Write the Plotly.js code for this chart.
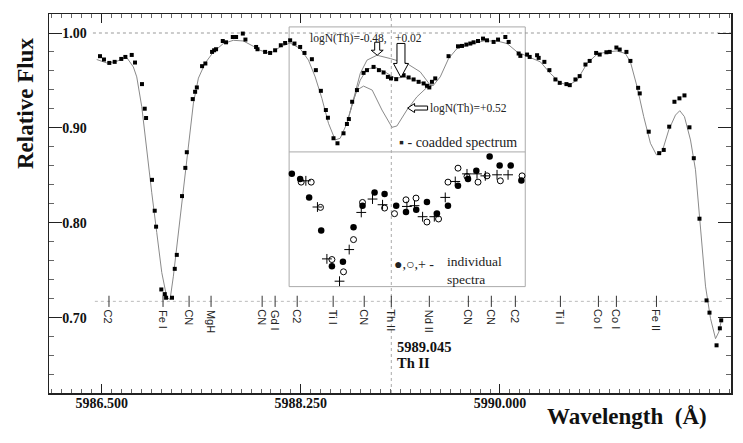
<!DOCTYPE html>
<html>
<head>
<meta charset="utf-8">
<script src="https://cdn.plot.ly/plotly-3.0.1.min.js"></script>
<style>html,body{margin:0;padding:0;background:#fff}#chart{width:743px;height:443px}</style>
</head>
<body>
<div id="chart"></div>
<script>
// Coadded spectrum (observed)
const waveCoadd = [5986.485,5986.520,5986.567,5986.614,5986.672,5986.708,5986.764,5986.793,5986.854,5986.878,5986.890,5986.942,5986.966,5986.978,5987.024,5987.054,5987.066,5987.118,5987.142,5987.160,5987.206,5987.235,5987.248,5987.300,5987.321,5987.336,5987.382,5987.411,5987.470,5987.488,5987.505,5987.564,5987.593,5987.652,5987.681,5987.740,5987.763,5987.857,5987.869,5987.936,5987.980,5988.024,5988.074,5988.112,5988.156,5988.194,5988.244,5988.282,5988.347,5988.382,5988.426,5988.470,5988.488,5988.537,5988.572,5988.625,5988.655,5988.672,5988.701,5988.743,5988.801,5988.831,5988.889,5988.936,5988.977,5989.015,5989.042,5989.088,5989.153,5989.197,5989.241,5989.285,5989.329,5989.358,5989.379,5989.402,5989.431,5989.548,5989.631,5989.666,5989.704,5989.739,5989.768,5989.807,5989.851,5989.886,5989.944,5989.983,5990.047,5990.076,5990.164,5990.179,5990.238,5990.261,5990.326,5990.340,5990.390,5990.434,5990.487,5990.525,5990.584,5990.613,5990.663,5990.700,5990.751,5990.788,5990.845,5990.876,5990.935,5990.964,5991.023,5991.052,5991.111,5991.146,5991.214,5991.228,5991.307,5991.399,5991.439,5991.487,5991.533,5991.577,5991.621,5991.665,5991.703,5991.753,5991.815,5991.841,5991.903,5991.932,5991.944];
const fluxCoadd = [0.9756,0.9721,0.9685,0.9696,0.9727,0.9748,0.9769,0.9689,0.9462,0.9203,0.9105,0.8454,0.8129,0.7961,0.7300,0.7251,0.7213,0.7213,0.7517,0.7664,0.8283,0.8580,0.8745,0.9304,0.9381,0.9427,0.9651,0.9679,0.9801,0.9818,0.9829,0.9916,0.9902,0.9958,0.9958,0.9994,0.9931,0.9853,0.9829,0.9801,0.9790,0.9818,0.9871,0.9895,0.9923,0.9889,0.9853,0.9790,0.9724,0.9609,0.9391,0.9189,0.9108,0.8892,0.8839,0.8944,0.9042,0.9094,0.9276,0.9399,0.9580,0.9609,0.9643,0.9609,0.9584,0.9538,0.9522,0.9514,0.9556,0.9532,0.9511,0.9486,0.9469,0.9444,0.9427,0.9486,0.9522,0.9756,0.9860,0.9864,0.9878,0.9889,0.9902,0.9916,0.9941,0.9923,0.9906,0.9931,0.9958,0.9906,0.9784,0.9759,0.9773,0.9748,0.9766,0.9738,0.9696,0.9609,0.9511,0.9475,0.9462,0.9451,0.9511,0.9546,0.9668,0.9706,0.9790,0.9773,0.9797,0.9801,0.9847,0.9826,0.9801,0.9706,0.9423,0.9364,0.8961,0.8735,0.8769,0.9014,0.9276,0.9312,0.9343,0.9007,0.8682,0.8045,0.7185,0.7056,0.6712,0.6891,0.6975];

// Synthetic spectrum, best fit logN(Th)=+0.02
const waveSynth = [5986.456,5986.544,5986.617,5986.720,5986.778,5986.808,5986.852,5986.896,5986.940,5986.984,5987.028,5987.072,5987.101,5987.130,5987.174,5987.218,5987.262,5987.306,5987.350,5987.409,5987.482,5987.569,5987.657,5987.745,5987.833,5987.892,5987.980,5988.068,5988.156,5988.244,5988.317,5988.376,5988.435,5988.493,5988.552,5988.596,5988.655,5988.713,5988.772,5988.831,5988.904,5988.992,5989.079,5989.167,5989.255,5989.343,5989.416,5989.475,5989.548,5989.622,5989.739,5989.856,5989.974,5990.062,5990.150,5990.267,5990.355,5990.443,5990.531,5990.604,5990.678,5990.765,5990.853,5990.941,5991.029,5991.102,5991.146,5991.205,5991.263,5991.322,5991.375,5991.425,5991.483,5991.542,5991.580,5991.621,5991.674,5991.718,5991.762,5991.806,5991.850,5991.894,5991.923,5991.944];
const fluxSynth = [0.9721,0.9685,0.9696,0.9742,0.9643,0.9538,0.9224,0.8738,0.8318,0.7898,0.7478,0.7216,0.7195,0.7440,0.7898,0.8384,0.8843,0.9262,0.9525,0.9682,0.9801,0.9889,0.9923,0.9916,0.9860,0.9818,0.9784,0.9853,0.9895,0.9836,0.9714,0.9538,0.9312,0.9049,0.8874,0.8892,0.9049,0.9294,0.9504,0.9619,0.9640,0.9588,0.9525,0.9535,0.9504,0.9462,0.9451,0.9538,0.9731,0.9836,0.9881,0.9916,0.9916,0.9889,0.9801,0.9745,0.9696,0.9574,0.9475,0.9451,0.9504,0.9679,0.9777,0.9801,0.9811,0.9784,0.9696,0.9433,0.9119,0.8839,0.8717,0.8751,0.8979,0.9136,0.9182,0.9119,0.8874,0.8560,0.7964,0.7335,0.6994,0.6782,0.6852,0.6967];

// Synthetic, logN(Th)=-0.48
const waveHigh = [5988.684,5988.743,5988.772,5988.831,5988.919,5989.036,5989.182,5989.299,5989.387,5989.416];
const fluxHigh = [0.9171,0.9441,0.9574,0.9714,0.9766,0.9731,0.9679,0.9591,0.9451,0.9451];

// Synthetic, logN(Th)=+0.52
const waveLow = [5988.655,5988.701,5988.743,5988.801,5988.877,5988.963,5989.051,5989.094,5989.182,5989.270,5989.358,5989.416];
const fluxLow = [0.9049,0.9252,0.9399,0.9441,0.9399,0.9189,0.9007,0.9021,0.9189,0.9328,0.9427,0.9451];

// Individual spectra (plotted with a vertical offset)
const waveIndA = [5988.171,5988.244,5988.323,5988.429,5988.523,5988.620,5988.713,5988.792,5988.898,5988.986,5989.088,5989.174,5989.264,5989.358,5989.446,5989.543,5989.631,5989.719,5989.792,5989.909,5989.997,5990.094,5990.188];
const fluxIndA = [0.8517,0.8462,0.8269,0.7922,0.7545,0.7591,0.7954,0.8182,0.8321,0.8304,0.8182,0.8115,0.8140,0.8220,0.8101,0.8182,0.8391,0.8462,0.8549,0.8699,0.8604,0.8604,0.8447];
const waveIndB = [5988.253,5988.341,5988.423,5988.523,5988.625,5988.713,5988.792,5988.986,5989.073,5989.174,5989.262,5989.358,5989.460,5989.543,5989.631,5989.710,5989.807,5989.886,5990.003,5990.194];
const fluxIndB = [0.8430,0.8430,0.8164,0.7615,0.7486,0.7825,0.8216,0.8157,0.8098,0.8244,0.8262,0.8010,0.8042,0.8430,0.8577,0.8489,0.8430,0.8496,0.8444,0.8496];
const waveIndC = [5988.294,5988.396,5988.479,5988.590,5988.675,5988.781,5988.880,5988.968,5989.182,5989.249,5989.320,5989.423,5989.519,5989.607,5989.710,5989.798,5989.871,5989.974,5990.071];
const fluxIndC = [0.8444,0.8168,0.7622,0.7387,0.7720,0.8111,0.8252,0.8192,0.8174,0.8182,0.8066,0.8066,0.8269,0.8437,0.8517,0.8517,0.8496,0.8507,0.8507];

// Line identifications
const lineWaves = [5986.564,5987.039,5987.268,5987.461,5987.910,5988.024,5988.218,5988.534,5988.807,5989.045,5989.379,5989.722,5989.924,5990.135,5990.531,5990.865,5991.023,5991.375];
const lineNames = ["C2","Fe I","CN","MgH","CN","Gd I","C2","Ti I","CN","Th II","Nd II","CN","CN","C2","Ti I","Co I","Co I","Fe II"];

const xTicks = [5986.5, 5988.25, 5990.0];
const xTickText = ["5986.500","5988.250","5990.000"];
const yTicks = [0.70, 0.80, 0.90, 1.00];
const yTickText = ["0.70","0.80","0.90","1.00"];

const thWave = 5989.045;
const lineRowY = 0.7175;

const serif = "Liberation Serif, Times New Roman, serif";
const sans = "Liberation Sans, Arial, sans-serif";
const grey = "#8a8a8a";

const traces = [
  {x: waveSynth, y: fluxSynth, mode: "lines", line: {color: grey, width: 1}, hoverinfo: "skip"},
  {x: waveHigh, y: fluxHigh, mode: "lines", line: {color: grey, width: 1}, hoverinfo: "skip"},
  {x: waveLow, y: fluxLow, mode: "lines", line: {color: grey, width: 1}, hoverinfo: "skip"},
  {x: waveCoadd, y: fluxCoadd, mode: "markers", marker: {symbol: "square", size: 4, color: "#000"}},
  {x: waveIndA, y: fluxIndA, mode: "markers", marker: {symbol: "circle", size: 6.5, color: "#000"}},
  {x: waveIndB, y: fluxIndB, mode: "markers", marker: {symbol: "circle-open", size: 6, color: "#000", line: {width: 1}}},
  {x: waveIndC, y: fluxIndC, mode: "markers", marker: {symbol: "cross-thin-open", size: 7, color: "#000", line: {width: 1, color: "#000"}}},
  {x: lineWaves, y: lineWaves.map(() => lineRowY), mode: "markers", marker: {symbol: "line-ns-open", size: 8, color: "#333", line: {width: 1, color: "#333"}}}
];

const annotations = lineNames.map((n, i) => ({
  x: lineWaves[i], y: 0.711, xref: "x", yref: "y", text: n, showarrow: false,
  textangle: 90, xanchor: "center", yanchor: "top",
  font: {family: sans, size: 11, color: "#222"}
}));

annotations.push(
  {x: -0.0352, y: 0.765, xref: "paper", yref: "paper", text: "Relative Flux", showarrow: false, textangle: -90,
   xanchor: "center", yanchor: "middle",
   font: {family: serif, size: 23, color: "#111", weight: "bold"}},
  {x: 0.8475, y: -0.063, xref: "paper", yref: "paper", text: "Wavelength&nbsp;&nbsp;(Å)", showarrow: false,
   xanchor: "center", yanchor: "middle", font: {family: serif, size: 23, color: "#111", weight: "bold"}},
  {x: 5989.080, y: 0.6695, xref: "x", yref: "y", text: "5989.045", showarrow: false, xanchor: "left", yanchor: "middle",
   font: {family: serif, size: 14.5, color: "#111", weight: "bold"}},
  {x: 5989.080, y: 0.6531, xref: "x", yref: "y", text: "Th II", showarrow: false, xanchor: "left", yanchor: "middle",
   font: {family: serif, size: 14.5, color: "#111", weight: "bold"}},
  {x: 5988.314, y: 0.9944, xref: "x", yref: "y", text: "logN(Th)=-0.48,", showarrow: false, xanchor: "left", yanchor: "middle",
   font: {family: serif, size: 11.5, color: "#222"}},
  {x: 5989.062, y: 0.9944, xref: "x", yref: "y", text: "+0.02", showarrow: false, xanchor: "left", yanchor: "middle",
   font: {family: serif, size: 11.5, color: "#222"}},
  {x: 5989.370, y: 0.9209, xref: "x", yref: "y", text: "logN(Th)=+0.52", showarrow: false, xanchor: "left", yanchor: "middle",
   font: {family: serif, size: 11.5, color: "#222"}},
  {x: 5990.170, y: 0.8850, xref: "x", yref: "y", text: "▪ - coadded spectrum", showarrow: false, xanchor: "right", yanchor: "middle",
   font: {family: serif, size: 14, color: "#222"}},
  {x: 5989.440, y: 0.7562, xref: "x", yref: "y", text: "●,○,+ -", showarrow: false, xanchor: "right", yanchor: "middle",
   font: {family: serif, size: 14, color: "#222"}},
  {x: 5989.520, y: 0.7500, xref: "x", yref: "y", text: "individual<br>spectra", showarrow: false, xanchor: "left", yanchor: "middle",
   align: "left", font: {family: serif, size: 13.5, color: "#222"}}
);

const arrowLine = {color: "#000", width: 1};
const shapes = [
  {type: "rect", xref: "x", yref: "y", x0: 5988.147, x1: 5990.222, y0: 0.733, y1: 1.0064, line: {color: "#aaa", width: 1}, layer: "below"},
  {type: "line", xref: "x", yref: "y", x0: 5988.147, x1: 5990.222, y0: 0.8748, y1: 0.8748, line: {color: "#aaa", width: 1}, layer: "below"},
  {type: "line", xref: "x", yref: "y", x0: 5986.423, x1: 5992.03, y0: 1.0, y1: 1.0, line: {color: "#999", width: 1, dash: "dot"}, layer: "below"},
  {type: "line", xref: "x", yref: "paper", x0: thWave, x1: thWave, y0: 0, y1: 1, line: {color: "#aaa", width: 1, dash: "dot"}, layer: "below"},
  {type: "line", xref: "x", yref: "y", x0: 5986.44, x1: 5991.95, y0: lineRowY, y1: lineRowY, line: {color: "#bbb", width: 1, dash: "dot"}, layer: "below"},
  {type: "path", xref: "x", yref: "y", xsizemode: "pixel", ysizemode: "pixel", xanchor: 5988.921, yanchor: 0.9766,
   path: "M -2.5,13 L 2.5,13 L 2.5,5 L 6,5 L 0,0 L -6,5 L -2.5,5 Z", fillcolor: "#fff", line: arrowLine},
  {type: "path", xref: "x", yref: "y", xsizemode: "pixel", ysizemode: "pixel", xanchor: 5989.130, yanchor: 0.9532,
   path: "M -4,34 L 4,34 L 4,14 L 7.5,14 L 0,0 L -7.5,14 L -4,14 Z", fillcolor: "#fff", line: arrowLine},
  {type: "path", xref: "x", yref: "y", xsizemode: "pixel", ysizemode: "pixel", xanchor: 5989.188, yanchor: 0.9210,
   path: "M 0,0 L 7,4.5 L 7,2 L 20,2 L 20,-2 L 7,-2 L 7,-4.5 Z", fillcolor: "#fff", line: arrowLine}
];

const layout = {
  width: 743, height: 443,
  margin: {l: 49, r: 12, t: 14, b: 50},
  paper_bgcolor: "#fff", plot_bgcolor: "#fff",
  showlegend: false,
  xaxis: {
    range: [5986.037, 5992.03], tickvals: xTicks, ticktext: xTickText,
    ticks: "inside", ticklen: 9, tickwidth: 1, tickcolor: "#222",
    ticklabelstandoff: -3,
    showline: true, linecolor: "#222", linewidth: 1.5, mirror: "ticks",
    showgrid: false, zeroline: false,
    tickfont: {family: serif, size: 14, color: "#111", weight: "bold"},
    minor: {dtick: 0.0875, tick0: 5986.5, ticks: "inside", ticklen: 4, tickcolor: "#666", showgrid: false}
  },
  yaxis: {
    range: [0.621, 1.02], tickvals: yTicks, ticktext: yTickText,
    ticks: "inside", ticklen: 13, tickwidth: 1, tickcolor: "#222",
    ticklabelposition: "outside", ticklabelstandoff: -42,
    showline: true, linecolor: "#222", linewidth: 1.5, mirror: "ticks",
    showgrid: false, zeroline: false,
    tickfont: {family: serif, size: 14, color: "#111", weight: "bold"},
    minor: {dtick: 0.02, tick0: 0.7, ticks: "inside", ticklen: 5, tickcolor: "#666", showgrid: false}
  },
  annotations: annotations,
  shapes: shapes
};

Plotly.newPlot("chart", traces, layout, {staticPlot: true, displayModeBar: false});
</script>
</body>
</html>
